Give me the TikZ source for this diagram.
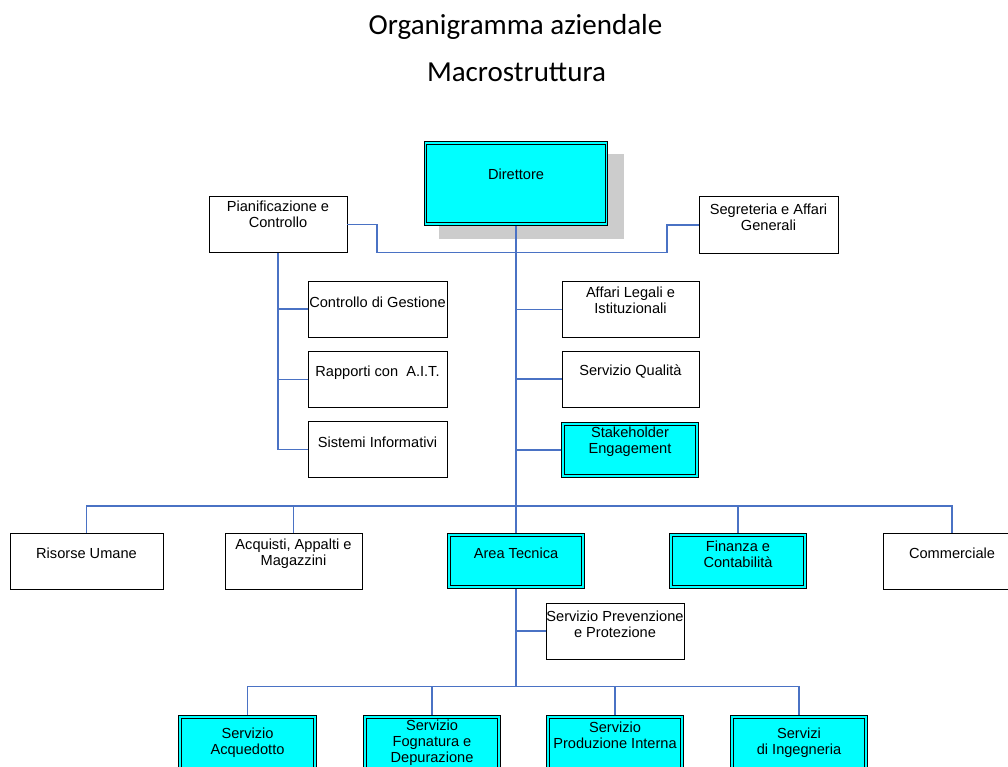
\documentclass[tikz,border=0pt]{standalone}
\usepackage{fontspec}
\setmainfont{Liberation Sans}
\newfontfamily\titlefont{Carlito}
\definecolor{linkblue}{RGB}{74,114,196}
\definecolor{boxcyan}{RGB}{0,255,255}
\definecolor{shadowgray}{RGB}{204,204,204}
\begin{document}
\begin{tikzpicture}[x=1pt,y=-1pt,
  pbox/.style={draw=black,line width=1pt,fill=white,minimum width=138pt,minimum height=56pt,inner sep=0pt,outer sep=0pt},
  cbox/.style={draw=black,line width=0.9pt,double=boxcyan,double distance=1.8pt,fill=boxcyan,minimum width=134pt,minimum height=52pt,inner sep=0pt,outer sep=1.8pt},
  txt/.style={font=\fontsize{14.6}{16}\selectfont,align=center,inner sep=0pt},
  ttl/.style={font=\titlefont\fontsize{29}{33}\selectfont,inner sep=0pt},
  link/.style={draw=linkblue,line width=1.3pt}]
\clip (0,0) rectangle (1008,767);
\fill[white] (0,0) rectangle (1008,767);

% titles
\node[ttl] (t1) at (515.5,27) {Organigramma aziendale};
\node[ttl] (t2) at (516.5,72) {Macrostruttura};

% shadow and director
\fill[shadowgray] (439,154) rectangle (624,239);
\node[cbox,minimum width=181pt,minimum height=81pt] (dir) at (516,183.5) {};
\node[txt] (dir-t) at ([yshift=9pt]dir.center) {Direttore};

% staff boxes
\node[pbox] (pc) at (278,224.5) {};
\node[txt] (pc-t) at ([yshift=10pt]pc.center) {Pianificazione e\\Controllo};
\node[pbox,minimum width=139pt] (seg) at (768.5,225) {};
\node[txt] (seg-t) at ([yshift=8pt]seg.center) {Segreteria e Affari\\Generali};

\node[pbox,minimum width=139pt] (cg) at (377.5,309) {};
\node[txt] (cg-t) at ([yshift=7pt]cg.center) {Controllo di Gestione};
\node[pbox,minimum width=139pt] (rait) at (377.5,379.5) {};
\node[txt] (rait-t) at ([yshift=7pt]rait.center) {Rapporti con\ \ A.I.T.};
\node[pbox,minimum width=139pt] (si) at (377.5,449.5) {};
\node[txt] (si-t) at ([yshift=7pt]si.center) {Sistemi Informativi};

\node[pbox,minimum width=137pt] (al) at (630.5,309.5) {};
\node[txt] (al-t) at ([yshift=9pt]al.center) {Affari Legali e\\Istituzionali};
\node[pbox,minimum width=137pt] (sq) at (630.5,379) {};
\node[txt] (sq-t) at ([yshift=7pt]sq.center) {Servizio Qualità};
\node[cbox] (se) at (630,450) {};
\node[txt] (se-t) at ([yshift=8pt]se.center) {Stakeholder\\Engagement};

% second level
\node[pbox,minimum width=153pt] (ru) at (86.5,561) {};
\node[txt] (ru-t) at ([yshift=8pt]ru.center) {Risorse Umane};
\node[pbox,minimum width=137pt] (aq) at (293.5,561) {};
\node[txt] (aq-t) at ([yshift=7pt]aq.center) {Acquisti, Appalti e\\Magazzini};
\node[cbox] (at) at (516,561) {};
\node[txt] (at-t) at ([yshift=8pt]at.center) {Area Tecnica};
\node[cbox] (fin) at (738,561) {};
\node[txt] (fin-t) at ([yshift=7pt]fin.center) {Finanza e\\Contabilità};
\node[pbox] (com) at (952,561) {};
\node[txt] (com-t) at ([yshift=8pt]com.center) {Commerciale};

\node[pbox] (prev) at (615,631) {};
\node[txt] (prev-t) at ([yshift=7pt]prev.center) {Servizio Prevenzione\\e Protezione};

% third level
\node[cbox,minimum width=135pt] (b1) at (247.5,743) {};
\node[txt] (b1-t) at (b1.center) {Servizio\\Acquedotto};
\node[cbox,minimum width=134pt] (b2) at (432,743) {};
\node[txt] (b2-t) at (b2.center) {Servizio\\Fognatura e\\Depurazione};
\node[cbox,minimum width=134pt] (b3) at (615,743) {};
\node[txt] (b3-t) at ([yshift=8pt]b3.center) {Servizio\\Produzione Interna};
\node[cbox,minimum width=134pt] (b4) at (799,743) {};
\node[txt] (b4-t) at (b4.center) {Servizi\\di Ingegneria};

% connectors
\coordinate (k1) at (377,252.5);
\coordinate (k2) at (667,252.5);
\coordinate (bus) at (516,506);
\coordinate (bus2) at (516,686.5);

\draw[link] (dir.south) -- (at.north);
\draw[link] (at.south) -- (bus2);
\draw[link] (pc.east) -| (k1) -- (k2) |- (seg.west);
\draw[link] (pc.south) -- (pc.south |- si.west);
\draw[link] (pc.south |- cg.west) -- (cg.west);
\draw[link] (pc.south |- rait.west) -- (rait.west);
\draw[link] (pc.south |- si.west) -- (si.west);
\draw[link] (dir.south |- al.west) -- (al.west);
\draw[link] (dir.south |- sq.west) -- (sq.west);
\draw[link] (dir.south |- se.west) -- (se.west);
\draw[link] (ru.north) -- (ru.north |- bus) -- (com.north |- bus) -- (com.north);
\draw[link] (aq.north) -- (aq.north |- bus);
\draw[link] (fin.north) -- (fin.north |- bus);
\draw[link] (prev.west) -- (prev.west -| at.south);
\draw[link] (b1.north) -- (b1.north |- bus2) -- (b4.north |- bus2) -- (b4.north);
\draw[link] (b2.north) -- (b2.north |- bus2);
\draw[link] (b3.north) -- (b3.north |- bus2);
\end{tikzpicture}
\end{document}
